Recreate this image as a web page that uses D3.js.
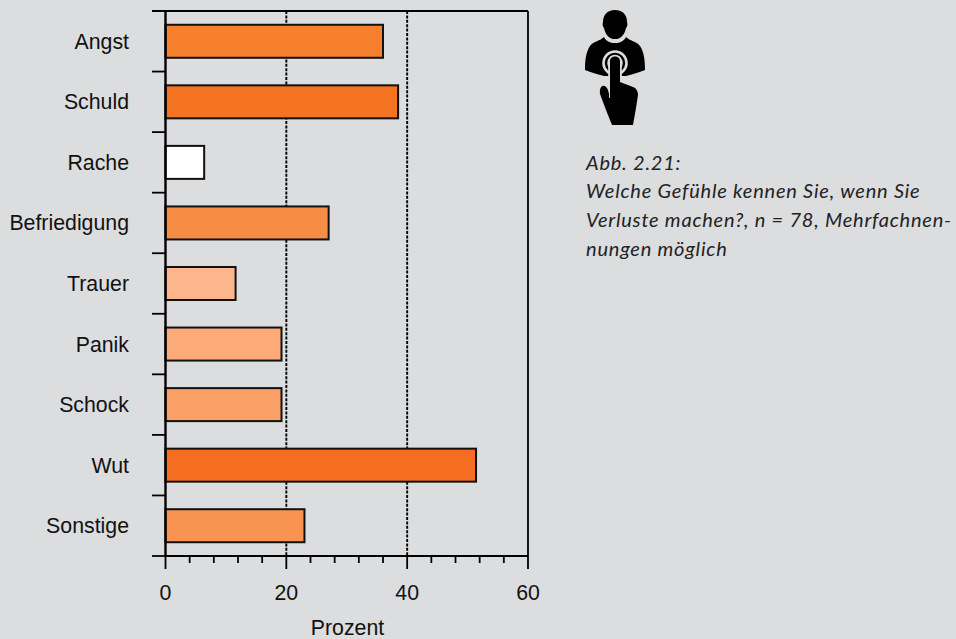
<!DOCTYPE html>
<html>
<head>
<meta charset="utf-8">
<script src="https://cdn.jsdelivr.net/npm/d3@7/dist/d3.min.js"></script>
<style>
html,body{margin:0;padding:0;background:#dcddde;}
svg{display:block;}
</style>
</head>
<body>
<svg id="chart" width="956" height="639"></svg>
<script>
const categories = ["Angst","Schuld","Rache","Befriedigung","Trauer","Panik","Schock","Wut","Sonstige"];
const percentages = [36, 38.5, 6.4, 27, 11.6, 19.2, 19.2, 51.4, 23];
const barColors = ["#f6802e","#f47321","#ffffff","#f78c45","#fdb68c","#fbaa78","#fa9f66","#f46d21","#f99351"];
const majorTicks = [0, 20, 40, 60];
const minorTicks = [4,8,12,16,24,28,32,36,44,48,52,56];
const gridValues = [20, 40];
const captionLines = [
  "Abb. 2.21:",
  "Welche Gefühle kennen Sie, wenn Sie",
  "Verluste machen?, n = 78, Mehrfachnen-",
  "nungen möglich"
];

const svg = d3.select("#chart");
const x = d3.scaleLinear().domain([0, 60]).range([165.5, 528]);
const y = d3.scaleBand().domain(categories).range([11, 556]).paddingInner(0.455).paddingOuter(0.2275);
const yEdges = d3.scaleLinear().domain([0, categories.length]).range([11, 556]);
const [plotTop, plotBottom] = y.range();
const labelFont = "'Liberation Sans', Arial, sans-serif";
const labelSize = 21.3;
const paper = "#dcddde";

// Dotted reference lines
svg.append("g").selectAll("line").data(gridValues).join("line")
  .attr("x1", d => x(d)).attr("x2", d => x(d))
  .attr("y1", plotTop).attr("y2", plotBottom)
  .attr("stroke", "#000").attr("stroke-width", 1.9).attr("stroke-dasharray", "3 1.4");

// Bars
svg.append("g").selectAll("rect").data(categories).join("rect")
  .attr("x", x(0))
  .attr("y", d => y(d))
  .attr("width", (d, i) => x(percentages[i]) - x(0))
  .attr("height", y.bandwidth())
  .attr("fill", (d, i) => barColors[i])
  .attr("stroke", "#111").attr("stroke-width", 2);

// Frame: top and right edges
const frame = svg.append("g").attr("stroke", "#000").attr("fill", "none");
frame.append("line").attr("x1", 152).attr("x2", x(60)).attr("y1", plotTop).attr("y2", plotTop).attr("stroke-width", 1.8);
frame.append("line").attr("x1", x(60)).attr("x2", x(60)).attr("y1", plotTop).attr("y2", plotBottom).attr("stroke-width", 1.8);

// Vertical category axis
const yAxis = svg.append("g").attr("stroke", "#000");
yAxis.append("line").attr("x1", x(0)).attr("x2", x(0)).attr("y1", plotTop - 1).attr("y2", plotBottom).attr("stroke-width", 2.4);
yAxis.selectAll("line.tick").data(d3.range(1, categories.length + 1)).join("line")
  .attr("class", "tick")
  .attr("x1", 152).attr("x2", x(0))
  .attr("y1", d => yEdges(d)).attr("y2", d => yEdges(d))
  .attr("stroke-width", 1.8);

svg.append("g").selectAll("text").data(categories).join("text")
  .attr("x", 129)
  .attr("y", d => y(d) + y.bandwidth() / 2 + 7.5)
  .attr("text-anchor", "end")
  .attr("font-family", labelFont).attr("font-size", labelSize).attr("fill", "#111")
  .text(d => d);

// Horizontal value axis
const xAxis = svg.append("g").attr("transform", `translate(0,${plotBottom})`);
xAxis.append("line").attr("x1", x(0)).attr("x2", x(60)).attr("stroke", "#000").attr("stroke-width", 2.2);
xAxis.selectAll("line.minor").data(minorTicks).join("line")
  .attr("class", "minor")
  .attr("x1", d => x(d)).attr("x2", d => x(d)).attr("y1", 0).attr("y2", 7)
  .attr("stroke", "#000").attr("stroke-width", 1.8);
xAxis.selectAll("line.major").data(majorTicks).join("line")
  .attr("class", "major")
  .attr("x1", d => x(d)).attr("x2", d => x(d)).attr("y1", 0).attr("y2", 13)
  .attr("stroke", "#000").attr("stroke-width", 1.8);
xAxis.selectAll("text").data(majorTicks).join("text")
  .attr("x", d => x(d)).attr("y", 43.5)
  .attr("text-anchor", "middle")
  .attr("font-family", labelFont).attr("font-size", labelSize).attr("fill", "#111")
  .text(d => d);

svg.append("text")
  .attr("x", 347.5).attr("y", 635)
  .attr("text-anchor", "middle")
  .attr("font-family", labelFont).attr("font-size", labelSize).attr("fill", "#111")
  .text("Prozent");

// Person with pointing hand
const icon = svg.append("g").attr("transform", "translate(570,0)");
icon.append("path").attr("fill", "#000")
  .attr("d", "M45 10 C53 10 57 15 57 22 C58 24 57 27 56 28 C55 33 52 38 47 39 L43 39 C38 38 35 33 34 28 C33 27 32 24 33 22 C33 15 37 10 45 10 Z");
icon.append("path").attr("fill", "#000")
  .attr("d", "M34 37 C36 41 40 43 45 43 C50 43 54 41 56 37 C60 41 66 41 70 46 C74 52 75 60 75 70 C70 72 64 74 56 76 L34 76 C26 74 20 72 15 70 C15 60 16 52 20 46 C24 41 30 41 34 37 Z");
icon.append("circle").attr("cx", 45).attr("cy", 63).attr("r", 11.5).attr("fill", "none").attr("stroke", paper).attr("stroke-width", 2.6);
icon.append("circle").attr("cx", 45).attr("cy", 63).attr("r", 6.8).attr("fill", "none").attr("stroke", paper).attr("stroke-width", 2);
// Halo that separates the finger from the chest, then the hand itself
const handPath = "M40 98 L40 61 C40 55 50 55 50 61 L50 82 L63 87 C66 88 68 91 68 95 L66 108 L63 125 L42 125 L36 110 L30 94 C29 85 35 83 38 90 Z";
icon.append("path").attr("d", "M40 76 L40 61 C40 55 50 55 50 61 L50 76").attr("fill", "none").attr("stroke", paper).attr("stroke-width", 3.6);
icon.append("path").attr("fill", "#000").attr("d", handPath);
icon.append("path").attr("d", "M39.5 98 L39.5 87").attr("stroke", paper).attr("stroke-width", 0.9);

// Caption
svg.append("g").selectAll("text").data(captionLines).join("text")
  .attr("x", 586)
  .attr("y", (d, i) => 169.5 + i * 28.7)
  .attr("font-family", "Lato, sans-serif").attr("font-style", "italic")
  .attr("font-size", 20).attr("letter-spacing", 0.78).attr("fill", "#222")
  .text(d => d);
</script>
</body>
</html>
